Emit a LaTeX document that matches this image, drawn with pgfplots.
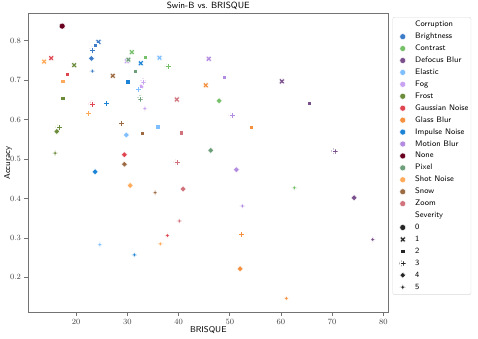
\documentclass[border=0pt]{standalone}
\usepackage{pgfplots}
\pgfplotsset{compat=1.18}
\renewcommand\familydefault{\sfdefault}

% corruption colours
\definecolor{cBright}{HTML}{3B7BC8}
\definecolor{cContr}{HTML}{77C06A}
\definecolor{cDefoc}{HTML}{7B4F8C}
\definecolor{cElast}{HTML}{80BFFF}
\definecolor{cFog}{HTML}{C9A2F2}
\definecolor{cFrost}{HTML}{6B8C3A}
\definecolor{cGauss}{HTML}{DF4550}
\definecolor{cGlass}{HTML}{F5903F}
\definecolor{cImpul}{HTML}{1C83D6}
\definecolor{cMotion}{HTML}{B38BE0}
\definecolor{cNone}{HTML}{6A0020}
\definecolor{cPixel}{HTML}{6D9F7A}
\definecolor{cShot}{HTML}{FFAA5A}
\definecolor{cSnow}{HTML}{9C6B43}
\definecolor{cZoom}{HTML}{D0737D}

% severity markers (seaborn style: o, X, square, P, diamond, 4-point star)
\newcommand\pluspath{%
  \pgfpathmoveto{\pgfpoint{-0.3333\pgfplotmarksize}{-\pgfplotmarksize}}%
  \pgfpathlineto{\pgfpoint{-0.3333\pgfplotmarksize}{-0.3333\pgfplotmarksize}}%
  \pgfpathlineto{\pgfpoint{-\pgfplotmarksize}{-0.3333\pgfplotmarksize}}%
  \pgfpathlineto{\pgfpoint{-\pgfplotmarksize}{0.3333\pgfplotmarksize}}%
  \pgfpathlineto{\pgfpoint{-0.3333\pgfplotmarksize}{0.3333\pgfplotmarksize}}%
  \pgfpathlineto{\pgfpoint{-0.3333\pgfplotmarksize}{\pgfplotmarksize}}%
  \pgfpathlineto{\pgfpoint{0.3333\pgfplotmarksize}{\pgfplotmarksize}}%
  \pgfpathlineto{\pgfpoint{0.3333\pgfplotmarksize}{0.3333\pgfplotmarksize}}%
  \pgfpathlineto{\pgfpoint{\pgfplotmarksize}{0.3333\pgfplotmarksize}}%
  \pgfpathlineto{\pgfpoint{\pgfplotmarksize}{-0.3333\pgfplotmarksize}}%
  \pgfpathlineto{\pgfpoint{0.3333\pgfplotmarksize}{-0.3333\pgfplotmarksize}}%
  \pgfpathlineto{\pgfpoint{0.3333\pgfplotmarksize}{-\pgfplotmarksize}}%
  \pgfpathclose}
\pgfdeclareplotmark{Pf}{\pluspath\pgfusepathqfillstroke}
\pgfdeclareplotmark{Xf}{\pgftransformrotate{45}\pluspath\pgfusepathqfillstroke}
\pgfdeclareplotmark{Sq}{%
  \pgfpathrectangle{\pgfpoint{-0.7071\pgfplotmarksize}{-0.7071\pgfplotmarksize}}%
    {\pgfpoint{1.4142\pgfplotmarksize}{1.4142\pgfplotmarksize}}%
  \pgfusepathqfillstroke}
\pgfdeclareplotmark{Dm}{%
  \pgfpathmoveto{\pgfpoint{0pt}{\pgfplotmarksize}}%
  \pgfpathlineto{\pgfpoint{\pgfplotmarksize}{0pt}}%
  \pgfpathlineto{\pgfpoint{0pt}{-\pgfplotmarksize}}%
  \pgfpathlineto{\pgfpoint{-\pgfplotmarksize}{0pt}}%
  \pgfpathclose\pgfusepathqfillstroke}
\pgfdeclareplotmark{St}{%
  \pgfpathmoveto{\pgfpoint{0pt}{\pgfplotmarksize}}%
  \pgfpathlineto{\pgfpoint{0.27\pgfplotmarksize}{0.27\pgfplotmarksize}}%
  \pgfpathlineto{\pgfpoint{\pgfplotmarksize}{0pt}}%
  \pgfpathlineto{\pgfpoint{0.27\pgfplotmarksize}{-0.27\pgfplotmarksize}}%
  \pgfpathlineto{\pgfpoint{0pt}{-\pgfplotmarksize}}%
  \pgfpathlineto{\pgfpoint{-0.27\pgfplotmarksize}{-0.27\pgfplotmarksize}}%
  \pgfpathlineto{\pgfpoint{-\pgfplotmarksize}{0pt}}%
  \pgfpathlineto{\pgfpoint{-0.27\pgfplotmarksize}{0.27\pgfplotmarksize}}%
  \pgfpathclose\pgfusepathqfillstroke}

\pgfplotsset{
  sev/.style={scatter, only marks, forget plot, scatter src=explicit symbolic,
    mark size=3pt, mark options={fill=#1, draw=white, line width=0.4pt},
    scatter/classes={0={mark=*}, 1={mark=Xf}, 2={mark=Sq}, 3={mark=Pf}, 4={mark=Dm}, 5={mark=St}}},
  leg/.style 2 args={only marks, mark=#1, mark size=3pt,
    mark options={fill=#2, draw=white, line width=0.4pt}},
}

\begin{document}
\begin{tikzpicture}
\begin{axis}[
  scale only axis, width=360.5pt, height=299pt,
  xmin=10.6, xmax=81.0, ymin=0.111, ymax=0.869,
  xtick={20,30,...,80}, ytick={0.2,0.3,0.4,0.5,0.6,0.7,0.8},
  yticklabel style={/pgf/number format/.cd, fixed, precision=1, fixed zerofill},
  tick label style={font=\fontsize{8.5}{10}\selectfont, black!75},
  tick align=outside, xtick pos=left, ytick pos=left,
  major tick length=3.5pt,
  axis line style={black!55, line width=0.8pt},
  tick style={black!55, line width=0.6pt},
  every axis title shift=0pt,
  title={Swin-B vs.\ BRISQUE},
  title style={font=\fontsize{9}{10}\selectfont, at={(axis description cs:0.5,1.0251)}, anchor=center},
  xlabel={BRISQUE}, ylabel={Accuracy},
  label style={font=\fontsize{8.5}{10}\selectfont},
  xlabel style={at={(axis description cs:0.5,-0.0585)}, anchor=center},
  ylabel style={at={(axis description cs:-0.0555,0.5)}, anchor=center},
  legend cell align=left,
  legend style={at={(axis description cs:1,1)}, anchor=north west,
    xshift=4pt, yshift=-3.5pt, draw=black!15, rounded corners=2pt,
    inner xsep=1.5pt, inner ysep=2.5pt, font=\fontsize{8}{9}\selectfont,
    row sep=1.93pt, column sep=8.5pt,
    nodes={inner sep=1pt, text height=6pt, text depth=2pt}},
]

\addplot[sev=cFog] table[meta=s] {
x y s
29.89 0.748 1
31.40 0.721 2
33.08 0.696 3
32.67 0.683 4
33.43 0.628 5
};
\addplot[sev=cBright] table[meta=s] {
x y s
24.36 0.797 1
23.77 0.789 2
23.12 0.777 3
22.99 0.755 4
23.18 0.723 5
};
\addplot[sev=cContr] table[meta=s] {
x y s
30.87 0.771 1
33.53 0.758 2
37.90 0.735 3
47.92 0.648 4
62.62 0.427 5
};
\addplot[sev=cDefoc] table[meta=s] {
x y s
60.16 0.697 1
65.49 0.642 2
70.50 0.520 3
74.28 0.402 4
77.92 0.296 5
};
\addplot[sev=cElast] table[meta=s] {
x y s
36.27 0.757 1
35.95 0.582 2
32.10 0.677 3
29.82 0.561 4
24.63 0.283 5
};
\addplot[sev=cFrost] table[meta=s] {
x y s
19.61 0.738 1
17.40 0.655 2
16.62 0.581 3
16.23 0.570 4
15.90 0.515 5
};
\addplot[sev=cGauss] table[meta=s] {
x y s
15.12 0.756 1
18.30 0.716 2
23.06 0.640 3
29.43 0.511 4
37.83 0.306 5
};
\addplot[sev=cGlass] table[meta=s] {
x y s
45.32 0.687 1
54.17 0.580 2
52.21 0.309 3
52.02 0.222 4
61.06 0.147 5
};
\addplot[sev=cImpul] table[meta=s] {
x y s
32.63 0.743 1
30.09 0.696 2
25.92 0.642 3
23.71 0.468 4
31.38 0.257 5
};
\addplot[sev=cMotion] table[meta=s] {
x y s
45.90 0.754 1
48.95 0.708 2
50.40 0.611 3
51.30 0.473 4
52.47 0.381 5
};
\addplot[sev=cNone] table[meta=s] {
x y s
17.27 0.837 0
};
\addplot[sev=cPixel] table[meta=s] {
x y s
30.20 0.752 1
31.58 0.722 2
32.50 0.653 3
46.30 0.522 4
};
\addplot[sev=cShot] table[meta=s] {
x y s
13.75 0.747 1
17.40 0.697 2
22.40 0.616 3
30.54 0.433 4
36.46 0.285 5
};
\addplot[sev=cSnow] table[meta=s] {
x y s
27.16 0.711 1
32.83 0.565 2
28.79 0.591 3
29.43 0.487 4
35.42 0.415 5
};
\addplot[sev=cZoom] table[meta=s] {
x y s
39.66 0.651 1
40.50 0.567 2
39.66 0.492 3
40.89 0.424 4
40.17 0.343 5
};

% legend
\addlegendimage{empty legend}\addlegendentry{Corruption}
\addlegendimage{leg={*}{cBright}}\addlegendentry{Brightness}
\addlegendimage{leg={*}{cContr}}\addlegendentry{Contrast}
\addlegendimage{leg={*}{cDefoc}}\addlegendentry{Defocus Blur}
\addlegendimage{leg={*}{cElast}}\addlegendentry{Elastic}
\addlegendimage{leg={*}{cFog}}\addlegendentry{Fog}
\addlegendimage{leg={*}{cFrost}}\addlegendentry{Frost}
\addlegendimage{leg={*}{cGauss}}\addlegendentry{Gaussian Noise}
\addlegendimage{leg={*}{cGlass}}\addlegendentry{Glass Blur}
\addlegendimage{leg={*}{cImpul}}\addlegendentry{Impulse Noise}
\addlegendimage{leg={*}{cMotion}}\addlegendentry{Motion Blur}
\addlegendimage{leg={*}{cNone}}\addlegendentry{None}
\addlegendimage{leg={*}{cPixel}}\addlegendentry{Pixel}
\addlegendimage{leg={*}{cShot}}\addlegendentry{Shot Noise}
\addlegendimage{leg={*}{cSnow}}\addlegendentry{Snow}
\addlegendimage{leg={*}{cZoom}}\addlegendentry{Zoom}
\addlegendimage{empty legend}\addlegendentry{Severity}
\addlegendimage{leg={*}{black!85}}\addlegendentry{0}
\addlegendimage{leg={Xf}{black!85}}\addlegendentry{1}
\addlegendimage{leg={Sq}{black!85}}\addlegendentry{2}
\addlegendimage{leg={Pf}{black!85}}\addlegendentry{3}
\addlegendimage{leg={Dm}{black!85}}\addlegendentry{4}
\addlegendimage{leg={St}{black!85}}\addlegendentry{5}
\end{axis}
\pgfresetboundingbox
\path[use as bounding box] (current axis.south west) ++(-28pt,-25.5pt) rectangle ++(478pt,338pt);
\end{tikzpicture}
\end{document}
